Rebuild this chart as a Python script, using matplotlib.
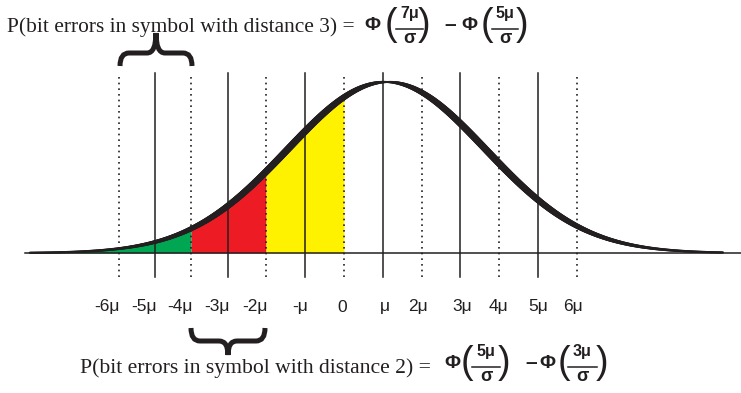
import numpy as np
import matplotlib
matplotlib.use("Agg")
import matplotlib.pyplot as plt
from matplotlib.collections import LineCollection
from matplotlib.path import Path
from matplotlib.patches import PathPatch

# curve (x in units of mu)
mean = 1.1
sigma = 2.55
peak = 171
x_start, x_end = -8.1, 9.77

multiples = [-6, -5, -4, -3, -2, -1, 0, 1, 2, 3, 4, 5, 6]
# where the guide lines sit in the drawing (left ones are squeezed a bit)
line_pos = [-5.80, -4.87, -3.94, -2.99, -2.01, -1.0, 0.0, 1.0, 2.01, 2.99, 3.99, 5.0, 6.0]
tick_labels = ['-6\u03bc', '-5\u03bc', '-4\u03bc', '-3\u03bc', '-2\u03bc', '-\u03bc', '0',
               '\u03bc', '2\u03bc', '3\u03bc', '4\u03bc', '5\u03bc', '6\u03bc']
label_px = [107, 144, 180, 217, 255, 300, 342, 385, 418, 462, 498, 538, 573]

regions = [(-8.1, -3.94), (-3.94, -2.01), (-2.01, 0.0)]
region_colors = ['#00a651', '#ed1c24', '#fff200']

top_text = 'P(bit errors in symbol with distance 3) ='
bottom_text = 'P(bit errors in symbol with distance 2) ='

INK = '#231f20'
W, H = 741, 393
X0, UNIT, BASE = 344, 38.8, 253

fig = plt.figure(figsize=(W / 100, H / 100), dpi=100)
ax = fig.add_axes([0, 0, 1, 1])
ax.set_xlim(-X0 / UNIT, (W - X0) / UNIT)
ax.set_ylim(BASE - H, BASE)
ax.axis('off')


def density(u):
    return peak * np.exp(-0.5 * ((u - mean) / sigma) ** 2)


# coloured areas
for (a, b), c in zip(regions, region_colors):
    xs = np.linspace(a, b, 200)
    ax.fill_between(xs, 0, density(xs), color=c, lw=0, zorder=1)

# vertical guide lines: odd multiples solid, even ones dotted
for m, p in zip(multiples, line_pos):
    if m % 2:
        ax.plot([p, p], [-24, 180], color=INK, lw=1.1, zorder=2)
    else:
        ax.plot([p, p], [-24, 180], color=INK, lw=1.2, ls=(0, (1, 2.4)), zorder=2)

# baseline
ax.plot([(25 - X0) / UNIT, (W - X0) / UNIT], [0, 0], color=INK, lw=1.1, zorder=3)

# curve with width growing on the steep parts
xs = np.linspace(x_start, x_end, 800)
ys = density(xs)
pts = np.column_stack([xs, ys]).reshape(-1, 1, 2)
segs = np.concatenate([pts[:-1], pts[1:]], axis=1)
slope = np.abs(np.gradient(ys, xs)) / UNIT
sin = slope / np.sqrt(1 + slope ** 2)
widths = (2.0 + 7.0 * sin[:-1]) * 0.72
lc = LineCollection(segs, linewidths=widths, colors=INK, capstyle='round', zorder=4)
ax.add_collection(lc)

# overlay in pixel coordinates for text and braces
ov = fig.add_axes([0, 0, 1, 1])
ov.set_xlim(0, W)
ov.set_ylim(H, 0)
ov.axis('off')
ov.patch.set_alpha(0)

serif = 'Liberation Serif'
sans = 'Liberation Sans'

for lab, px in zip(tick_labels, label_px):
    ov.text(px, 307, lab, ha='center', va='center', fontsize=12.5,
            family=sans, color=INK)


def brace(x0, x1, y_tip, y_arm, y_point, r=9):
    xm = (x0 + x1) / 2
    verts = [(x0, y_tip), (x0, y_arm), (x0 + r, y_arm),
             (xm - r, y_arm), (xm, y_arm), (xm, y_point),
             (xm, y_arm), (xm + r, y_arm),
             (x1 - r, y_arm), (x1, y_arm), (x1, y_tip)]
    codes = [Path.MOVETO, Path.CURVE3, Path.CURVE3,
             Path.LINETO, Path.CURVE3, Path.CURVE3,
             Path.CURVE3, Path.CURVE3,
             Path.LINETO, Path.CURVE3, Path.CURVE3]
    ov.add_patch(PathPatch(Path(verts, codes), fill=False, ec=INK, lw=3.6,
                           capstyle='butt', joinstyle='miter'))


brace(120, 192, 66, 53, 33)
brace(191, 265, 328, 341, 355)


def phi_frac(xc, yb, num, lp, x0, x1, rp):
    # Phi ( num / sigma ), yb = baseline of the Phi
    ov.text(xc, yb, '\u03a6', ha='center', va='baseline', fontsize=14,
            family=sans, weight='bold', color=INK)
    ov.text(lp, yb + 5, '(', ha='center', va='baseline', fontsize=27,
            family=sans, color=INK)
    fx = (x0 + x1) / 2
    ov.text(fx, yb - 12, num, ha='center', va='baseline', fontsize=11.5,
            family=sans, weight='bold', color=INK)
    ov.plot([x0, x1], [yb - 1, yb - 1], color=INK, lw=1.1)
    ov.text(fx, yb + 13, '\u03c3', ha='center', va='baseline', fontsize=13,
            family=sans, weight='bold', color=INK)
    ov.text(rp, yb + 5, ')', ha='center', va='baseline', fontsize=27,
            family=sans, color=INK)


def minus(x, y):
    ov.text(x, y, '\u2013', ha='center', va='center', fontsize=15,
            family=sans, weight='bold', color=INK)


ov.text(7, 32, top_text, ha='left', va='baseline', fontsize=15.4, family=serif, color=INK)
phi_frac(372, 30, '7\u03bc', 391, 396, 423, 424)
minus(450, 24)
phi_frac(469, 30, '5\u03bc', 487, 492, 518, 522)

ov.text(80, 373, bottom_text, ha='left', va='baseline', fontsize=15.6, family=serif, color=INK)
phi_frac(452, 368, '5\u03bc', 467, 472, 500, 504)
minus(531, 362)
phi_frac(547, 368, '3\u03bc', 564, 568, 597, 602)

fig.savefig('out.png', dpi=100)
